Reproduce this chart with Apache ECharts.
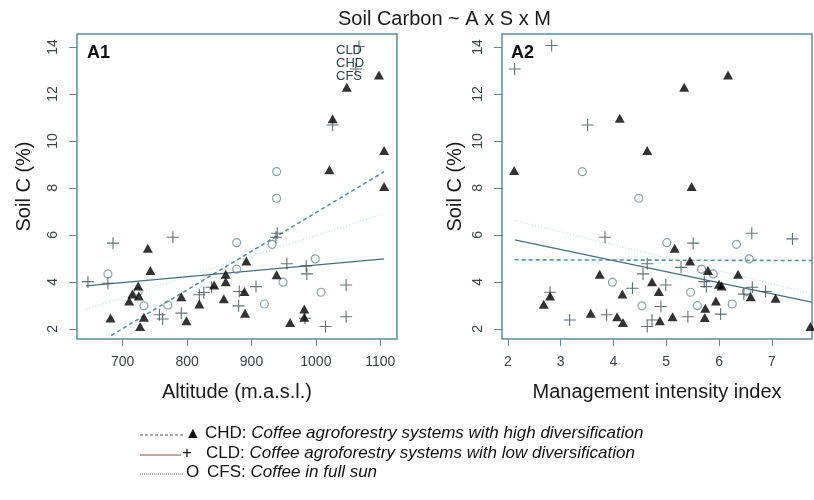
<!DOCTYPE html>
<html>
<head>
<meta charset="utf-8">
<script src="https://cdn.jsdelivr.net/npm/echarts@6/dist/echarts.min.js"></script>
<style>
html, body { margin: 0; padding: 0; background: #fff; }
#chart { width: 814px; height: 500px; }
</style>
</head>
<body>
<div id="chart"></div>
<script>
// values: [x, soil C %]
var chdAltitude = [[681,2.46],[739,5.43],[743,4.48],[710,3.19],[715,3.49],[724,3.83],[725,3.40],[733,2.50],[727,2.10],
  [791,3.37],[799,2.35],[819,3.06],[842,3.87],[860,4.33],[860,4.01],[857,3.28],[892,4.89],[889,3.59],[890,2.67],
  [939,4.30],[960,2.27],[982,2.85],[982,2.50],[1106,8.06],[1106,9.59],[1098,12.81],[1048,12.28],[1026,10.94],[1021,8.77]];
var cldAltitude = [[646,4.01],[677,3.94],[685,5.65],[778,5.90],[757,2.60],[762,2.42],[791,2.67],[819,3.45],[826,3.55],
  [838,3.77],[881,3.59],[880,2.98],[907,3.80],[940,6.07],[938,5.90],[955,4.77],[985,4.68],[986,4.34],[983,2.45],
  [1015,2.10],[1047,3.87],[1047,2.52],[1026,10.68],[1067,14.02],[1062,13.06]];
var cfsAltitude = [[677,4.34],[733,2.98],[770,3.01],[724,3.59],[877,5.67],[877,4.54],[920,3.06],[932,5.60],[939,7.56],
  [939,8.69],[949,3.99],[999,4.98],[1008,3.56]];

var chdMii = [[2.68,3.05],[2.80,3.40],[3.57,2.67],[3.74,4.33],[4.07,2.52],[4.18,2.27],[4.17,3.48],[4.73,4.01],[4.86,3.59],
  [4.88,2.35],[5.12,2.52],[5.16,5.43],[5.45,4.89],[5.74,2.88],[5.73,2.48],[5.79,4.48],[5.94,3.19],[6.00,3.90],[6.05,3.83],
  [6.36,4.33],[6.60,3.37],[7.07,3.30],[7.73,2.10],[5.48,8.06],[2.12,8.74],[4.12,10.96],[4.64,9.59],[5.34,12.28],[6.17,12.81]];
var cldMii = [[2.80,3.56],[3.17,2.38],[3.84,5.90],[3.87,2.60],[4.36,3.73],[4.56,4.34],[4.64,4.77],[4.64,2.10],[4.73,2.38],
  [4.90,2.95],[4.99,3.87],[5.28,4.62],[5.41,2.52],[5.51,5.65],[5.72,4.01],[5.76,3.80],[6.03,2.63],[6.47,3.48],[6.62,6.07],
  [6.63,3.77],[6.88,3.59],[7.39,5.83],[2.13,13.06],[2.83,14.06],[3.51,10.68]];
var cfsMii = [[3.98,3.99],[4.54,2.98],[4.48,7.56],[5.01,5.67],[5.46,3.56],[5.59,2.99],[5.67,4.54],[5.89,4.34],[6.25,3.06],
  [6.33,5.60],[6.52,3.59],[6.57,4.98],[3.41,8.69]];

// fitted lines (end points)
var chdFitAltitude = [[682,1.72],[1106,8.69]];
var cldFitAltitude = [[643,3.83],[1106,4.98]];
var cfsFitAltitude = [[643,2.84],[1103,6.88]];
var chdFitMii = [[2.13,4.94],[7.75,4.91]];
var cldFitMii = [[2.13,5.79],[7.75,3.14]];
var cfsFitMii = [[2.13,6.61],[7.75,3.50]];

var altitudeTicks = [700, 800, 900, 1000, 1100];
var miiTicks = [2, 3, 4, 5, 6, 7];
var soilTicks = [2, 4, 6, 8, 10, 12, 14];

var frame = '#5f8c9c';
var tickText = '#3a4448';
var font = 'Liberation Sans, Arial, sans-serif';
var crossPath = 'path://M0,5L10,5M5,0L5,10';

function xAxisOf(idx, min, max, ticks, name) {
  return {
    gridIndex: idx, type: 'value', min: min, max: max,
    name: name, nameLocation: 'middle', nameGap: 43,
    nameTextStyle: { fontSize: 20, color: '#1a1a1a', fontFamily: font },
    axisLine: { show: false },
    axisTick: { show: true, length: 7, lineStyle: { color: frame }, customValues: ticks },
    axisLabel: { fontSize: 14, color: tickText, fontFamily: font, margin: 16, customValues: ticks,
      formatter: function (v) { return String(v); } },
    splitLine: { show: false }
  };
}
function yAxisOf(idx, gap) {
  return {
    gridIndex: idx, type: 'value', min: 1.57, max: 14.55,
    name: 'Soil C (%)', nameLocation: 'middle', nameGap: gap,
    nameTextStyle: { fontSize: 20, color: '#1a1a1a', fontFamily: font },
    axisLine: { show: false },
    axisTick: { show: true, length: 8, lineStyle: { color: frame }, customValues: soilTicks },
    axisLabel: { fontSize: 14, color: tickText, fontFamily: font, rotate: 90, margin: 17, customValues: soilTicks,
      formatter: function (v) { return String(v); } },
    splitLine: { show: false }
  };
}
function points(idx, kind, data) {
  var s = { type: 'scatter', xAxisIndex: idx, yAxisIndex: idx, data: data, z: 3 };
  if (kind === 'chd') {
    s.symbol = 'triangle'; s.symbolSize = [10, 9];
    s.itemStyle = { color: '#000' };
  } else if (kind === 'cld') {
    s.symbol = crossPath; s.symbolSize = 12;
    s.itemStyle = { color: 'transparent', borderColor: '#3b4c53', borderWidth: 1.1 };
  } else {
    s.symbol = 'circle'; s.symbolSize = 8;
    s.itemStyle = { color: 'transparent', borderColor: '#6e8f9b', borderWidth: 1.2 };
  }
  return s;
}
function fit(idx, data, color, width, type) {
  return {
    type: 'line', xAxisIndex: idx, yAxisIndex: idx, data: data, showSymbol: false, symbol: 'none',
    lineStyle: { color: color, width: width, type: type }, z: 2, silent: true
  };
}

var chart = echarts.init(document.getElementById('chart'));
var legendY = [435, 455, 474];
var legendRich = {
  n: { font: '17px ' + font, fill: '#111' },
  i: { font: 'italic 17px ' + font, fill: '#111' }
};
chart.setOption({
  backgroundColor: '#fff',
  animation: false,
  title: {
    text: 'Soil Carbon ~ A x S x M', left: 333, top: 4,
    textStyle: { fontSize: 20, fontWeight: 'normal', color: '#1a1a1a', fontFamily: font }
  },
  grid: [
    { left: 77, top: 34, width: 320, height: 305, show: true, borderColor: frame, borderWidth: 1.5 },
    { left: 502, top: 34, width: 310, height: 305, show: true, borderColor: frame, borderWidth: 1.5 }
  ],
  xAxis: [
    xAxisOf(0, 629, 1126, altitudeTicks, 'Altitude (m.a.s.l.)'),
    xAxisOf(1, 1.89, 7.76, miiTicks, 'Management intensity index')
  ],
  yAxis: [yAxisOf(0, 43), yAxisOf(1, 37)],
  series: [
    fit(0, cfsFitAltitude, '#a8d4e8', 1, [1, 2]),
    fit(0, chdFitAltitude, '#5a93aa', 1.6, [4, 3]),
    fit(0, cldFitAltitude, '#44707f', 1.3, 'solid'),
    points(0, 'cfs', cfsAltitude),
    points(0, 'cld', cldAltitude),
    points(0, 'chd', chdAltitude),
    fit(1, cfsFitMii, '#a8d4e8', 1, [1, 2]),
    fit(1, chdFitMii, '#5a93aa', 1.6, [4, 3]),
    fit(1, cldFitMii, '#44707f', 1.3, 'solid'),
    points(1, 'cfs', cfsMii),
    points(1, 'cld', cldMii),
    points(1, 'chd', chdMii)
  ],
  graphic: [
    { type: 'text', left: 87, top: 44, z: 10, style: { text: 'A1', font: 'bold 18px ' + font, fill: '#111' } },
    { type: 'text', left: 511, top: 44, z: 10, style: { text: 'A2', font: 'bold 18px ' + font, fill: '#111' } },
    { type: 'text', left: 336, top: 44, z: 10,
      style: { text: 'CLD\nCHD\nCFS', font: '13px ' + font, lineHeight: 13, fill: '#2e4049' } },
    // bottom legend
    { type: 'line', z: 10, shape: { x1: 140, y1: legendY[0], x2: 183, y2: legendY[0] },
      style: { stroke: '#555', lineWidth: 1, lineDash: [3, 2] } },
    { type: 'line', z: 10, shape: { x1: 140, y1: legendY[1], x2: 181, y2: legendY[1] },
      style: { stroke: '#8a4a3e', lineWidth: 1.2 } },
    { type: 'line', z: 10, shape: { x1: 140, y1: legendY[2], x2: 183, y2: legendY[2] },
      style: { stroke: '#666', lineWidth: 1, lineDash: [1, 1] } },
    { type: 'text', left: 185, top: legendY[0] - 9, z: 10, style: { text: '▲', font: '16px ' + font, fill: '#111' } },
    { type: 'text', left: 182, top: legendY[1] - 10, z: 10, style: { text: '+', font: '17px ' + font, fill: '#111' } },
    { type: 'text', left: 186, top: legendY[2] - 10, z: 10, style: { text: 'O', font: '17px ' + font, fill: '#111' } },
    { type: 'text', left: 205, top: legendY[0] - 10, z: 10,
      style: { rich: legendRich, text: '{n|CHD: }{i|Coffee agroforestry systems with high diversification}' } },
    { type: 'text', left: 206, top: legendY[1] - 10, z: 10,
      style: { rich: legendRich, text: '{n|CLD: }{i|Coffee agroforestry systems with low diversification}' } },
    { type: 'text', left: 207, top: legendY[2] - 10, z: 10,
      style: { rich: legendRich, text: '{n|CFS: }{i|Coffee in full sun}' } }
  ]
});
</script>
</body>
</html>
